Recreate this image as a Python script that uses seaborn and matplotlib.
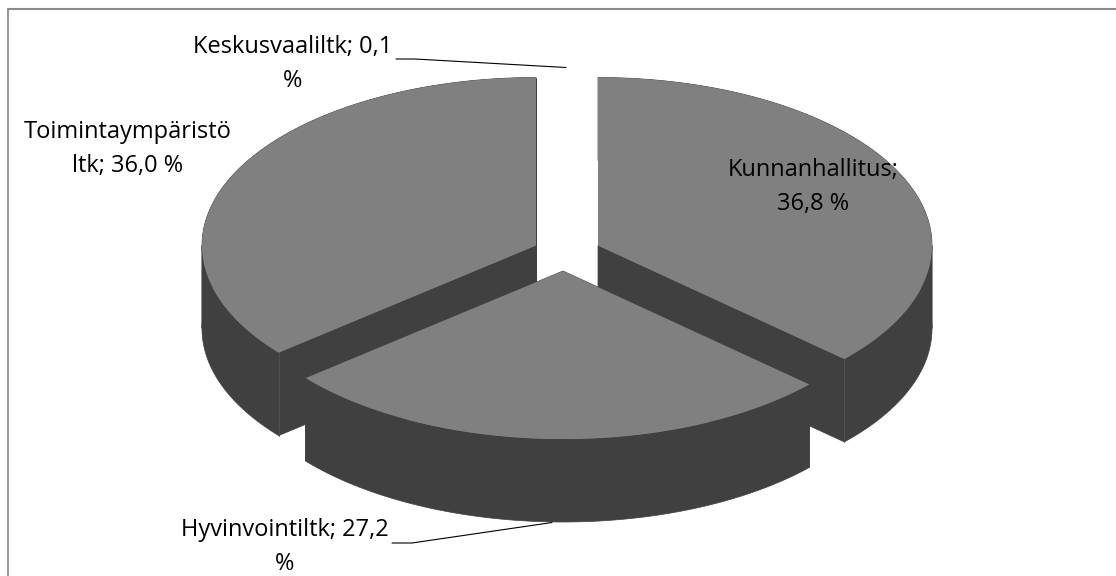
import numpy as np
import pandas as pd
import matplotlib
matplotlib.use("Agg")
import matplotlib.pyplot as plt
import seaborn as sns

categories = ["Kunnanhallitus", "Hyvinvointiltk", "Toimintaympäristöltk", "Keskusvaaliltk"]
shares = [36.8, 27.2, 36.0, 0.1]
label_lines = ["Kunnanhallitus;\n36,8 %", "Hyvinvointiltk; 27,2\n%",
               "Toimintaympäristö\nltk; 36,0 %", "Keskusvaaliltk; 0,1\n%"]

sns.set_theme(style="white")
plt.rcParams["font.family"] = ["Open Sans", "DejaVu Sans"]

df = pd.DataFrame({"category": categories, "share": shares})
df["end"] = df["share"].cumsum() / 100 * 2 * np.pi
df["start"] = df["end"].shift(fill_value=0.0)

TOP, SIDE = "#808080", "#404040"
RX, RY, DEPTH = 334, 168, 83
centres = {"Kunnanhallitus": (598, 245.5), "Hyvinvointiltk": (563, 271),
           "Toimintaympäristöltk": (536, 245.5)}

fig, ax = plt.subplots(figsize=(11.16, 5.76), dpi=100)
ax.set_position([0, 0, 1, 1])
ax.set_xlim(0, 1116)
ax.set_ylim(576, 0)
ax.axis("off")


def rim(cx, cy, a, b, n=200):
    t = np.linspace(a, b, n)
    return cx + RX * np.sin(t), cy - RY * np.cos(t)


def draw_slice(row, z):
    cx, cy = centres[row.category]
    x, y = rim(cx, cy, row.start, row.end)
    # outer curved wall: the rim swept down, split where the rim turns back in x
    cuts = [row.start] + [c for c in (np.pi / 2, 3 * np.pi / 2) if row.start < c < row.end] + [row.end]
    for a, b in zip(cuts[:-1], cuts[1:]):
        sx, sy = rim(cx, cy, a, b)
        ax.fill(np.r_[sx, sx[::-1]], np.r_[sy, sy[::-1] + DEPTH], color=SIDE, lw=0.5, zorder=z)
    # the two cut faces
    for xe, ye in ((x[0], y[0]), (x[-1], y[-1])):
        ax.fill([cx, xe, xe, cx], [cy, ye, ye + DEPTH, cy + DEPTH], color=SIDE, lw=0.5, zorder=z)
    ax.fill(np.r_[cx, x], np.r_[cy, y], color=TOP, lw=0, zorder=z + 0.5)


order = {"Kunnanhallitus": 2, "Toimintaympäristöltk": 2, "Hyvinvointiltk": 4}
for row in df.itertuples():
    if row.category in centres:
        draw_slice(row, order[row.category])

# seam where the curved outer wall meets the cut face
for name, angle in (("Kunnanhallitus", df["end"].iloc[0]), ("Toimintaympäristöltk", df["start"].iloc[2])):
    cx, cy = centres[name]
    x0, y0 = rim(cx, cy, angle, angle, 1)
    ax.plot([x0[0], x0[0]], [y0[0], y0[0] + DEPTH], color="#505050", lw=0.7, zorder=3.2)

text_kw = dict(ha="center", va="center", fontsize=17, color="black", linespacing=1.6, zorder=6)
ax.text(813, 187, label_lines[0], **text_kw)
ax.text(285, 547, label_lines[1], **text_kw)
ax.text(128, 149, label_lines[2], **text_kw)
ax.text(293, 64, label_lines[3], **text_kw)

ax.plot([396, 415, 566], [59, 59, 67.5], color="black", lw=0.8, zorder=6)
ax.plot([392, 412, 552], [543, 543, 522.5], color="black", lw=0.8, zorder=6)

ax.plot([8, 8], [9, 576], color="#9a9a9a", lw=1.5, zorder=7)
ax.plot([8, 1116], [9, 9], color="#8c8c8c", lw=1.5, zorder=7)
fig.savefig("out.png", dpi=100, facecolor="white")
